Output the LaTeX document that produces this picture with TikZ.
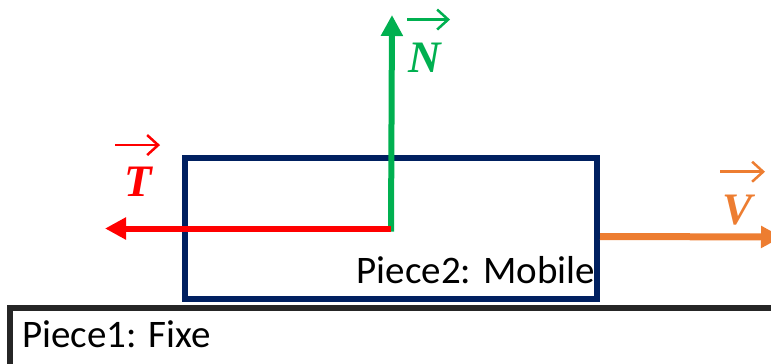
\documentclass[tikz,border=0pt]{standalone}
\usepackage{fontspec}
\setmainfont{Carlito}
\newfontfamily\vecfont{Liberation Serif}
\usetikzlibrary{arrows.meta}

\definecolor{navy}{HTML}{002060}
\definecolor{forcegreen}{HTML}{00B050}
\definecolor{forcered}{HTML}{FF0000}
\definecolor{speedorange}{HTML}{ED7D31}
\definecolor{framegray}{HTML}{262626}

\begin{document}
\begin{tikzpicture}[x=1pt,y=-1pt,
    force/.style={line width=6pt,-{Triangle[length=21pt,width=21pt]}},
    vecbar/.style={line width=2.5pt,-{Straight Barb[length=11pt,width=20pt]}},
    veclabel/.style={inner sep=0pt,font=\vecfont\bfseries\itshape\fontsize{45}{50}\selectfont},
    piecetext/.style={inner sep=0pt,font=\fontsize{39}{46}\selectfont}]

    % --- Page frame (pixels of the reference, y going down) ---
    \useasboundingbox (0,0) rectangle (771,364);

    % --- Fixed part at the bottom ---
    \draw[framegray,line width=6pt] (10,308) rectangle (790,390);
    \node[piecetext,anchor=base west] (fixe) at (22,347) {Piece1: Fixe};

    % --- Mobile part ---
    \node[draw=navy,line width=6pt,minimum width=412pt,minimum height=141pt,inner sep=0pt]
        (piece2) at (391,228.5) {};
    \node[piecetext,anchor=base east] (mobile) at ([shift={(-5,-19)}]piece2.south east) {Piece2: Mobile};

    % --- Forces ---
    % Normal force N, straight up from the centre
    \draw[force,forcegreen] ([yshift=-3pt]piece2.center) -- (392,15) coordinate (Ntip);
    % Tangential force T, to the left
    \draw[force,forcered] (piece2.center) -- (105,228.5) coordinate (Ttip);
    % Speed V, leaving the right side
    \draw[force,speedorange,line width=7pt] ([yshift=-8pt]piece2.east) -- (782,237) coordinate (Vtip);

    % --- Vector labels ---
    \node[veclabel,text=forcegreen] (N) at (425,57.5) {N};
    \draw[vecbar,forcegreen] ([shift={(-18,-23)}]N.north) -- ([shift={(25,-23)}]N.north);

    \node[veclabel,text=forcered] (T) at (138,182) {T};
    \draw[vecbar,forcered] ([shift={(-23,-22)}]T.north) -- ([shift={(22,-22)}]T.north);

    \node[veclabel,text=speedorange] (V) at (737,210) {V};
    \draw[vecbar,speedorange] ([shift={(-17,-23)}]V.north) -- ([shift={(28,-23)}]V.north);

\end{tikzpicture}
\end{document}
